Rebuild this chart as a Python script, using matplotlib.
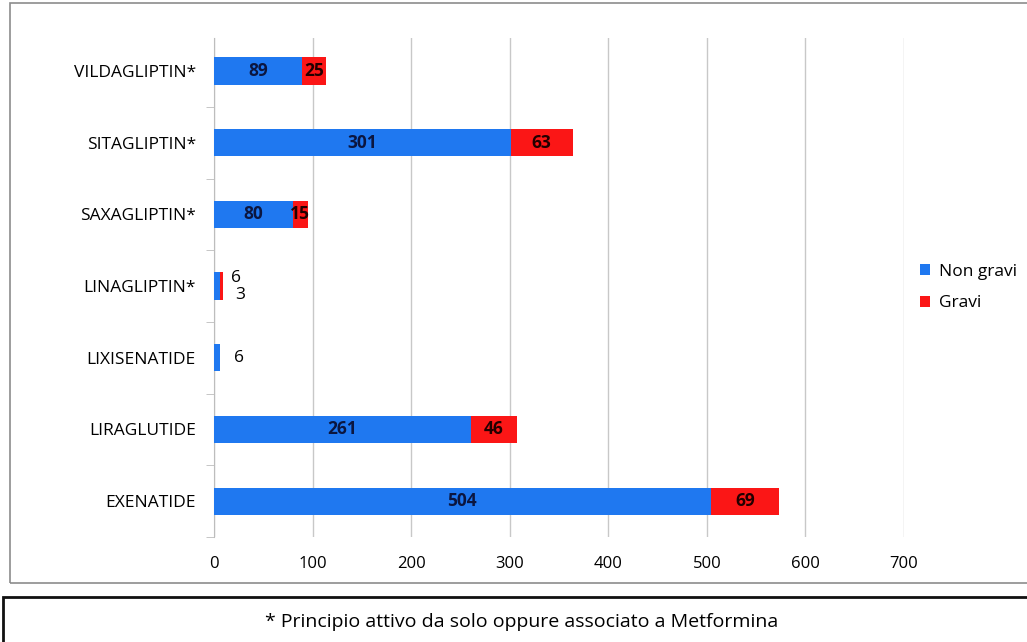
import numpy as np
import matplotlib.pyplot as plt
from matplotlib.patches import Rectangle

farmaci = ['VILDAGLIPTIN*', 'SITAGLIPTIN*', 'SAXAGLIPTIN*', 'LINAGLIPTIN*',
           'LIXISENATIDE', 'LIRAGLUTIDE', 'EXENATIDE']
non_gravi = [89, 301, 80, 6, 6, 261, 504]
gravi = [25, 63, 15, 3, 0, 46, 69]

blu = '#1f78f0'
rosso = '#fb1616'
font = ['Open Sans', 'DejaVu Sans']
plt.rcParams['font.family'] = font

fig = plt.figure(figsize=(10.27, 6.42), dpi=100)

# cornice del grafico e riquadro della nota
fig.patches.append(Rectangle((10 / 1027, 1 - 583 / 642), 1.2, 580 / 642,
                             transform=fig.transFigure, fill=False,
                             edgecolor='#8c8c8c', linewidth=1.2))
fig.patches.append(Rectangle((3 / 1027, -0.05), 1.2, 1 - 597 / 642 + 0.05,
                             transform=fig.transFigure, fill=False,
                             edgecolor='#111111', linewidth=2))
fig.text(0.508, 1 - 622 / 642, '* Principio attivo da solo oppure associato a Metformina',
         ha='center', va='center', fontsize=14)

ax = fig.add_axes([214 / 1027, 1 - 537 / 642, 690 / 1027, 499 / 642])
y = np.arange(len(farmaci))[::-1]
ax.barh(y, non_gravi, height=0.38, color=blu, label='Non gravi', zorder=3)
ax.barh(y, gravi, left=non_gravi, height=0.38, color=rosso, label='Gravi', zorder=3)

for yi, ng, g in zip(y, non_gravi, gravi):
    if ng >= 50:
        ax.text(ng / 2, yi, str(ng), ha='center', va='center', fontsize=12.5,
                fontweight='bold', color='#0b1640', zorder=4)
        if g > 0:
            ax.text(ng + g / 2, yi, str(g), ha='center', va='center', fontsize=12.5,
                    fontweight='bold', color='#220000', zorder=4)
    elif g > 0:
        ax.text(ng + g + 8, yi + 0.11, str(ng), ha='left', va='center', fontsize=12.5, zorder=4)
        ax.text(ng + g + 12, yi - 0.13, str(g), ha='left', va='center', fontsize=12.5, zorder=4)
    else:
        ax.text(ng + 14, yi, str(ng), ha='left', va='center', fontsize=12.5, zorder=4)

ax.set_xlim(0, 700)
ax.set_ylim(-0.49, 6.46)
ax.set_xticks(range(0, 701, 100))
ax.set_yticks(y)
ax.set_yticklabels(farmaci, fontsize=12.5)
ax.set_yticks(np.arange(-0.5, 6.5, 1), minor=True)
ax.tick_params(axis='y', which='major', length=0, pad=13)
ax.tick_params(axis='y', which='minor', length=6, color='#bdbdbd', direction='out')
ax.tick_params(axis='x', length=0, labelsize=12, pad=14)
ax.grid(axis='x', color='#c8c8c8', linewidth=1, zorder=0)
for s in ['top', 'right', 'bottom']:
    ax.spines[s].set_visible(False)
ax.spines['left'].set_color('#bdbdbd')

ax.legend(loc='center left', bbox_to_anchor=(1.0, 0.5), frameon=False, fontsize=12.5,
          handlelength=0.6, handleheight=0.6, handletextpad=0.5, labelspacing=0.9)

fig.savefig('out.png', dpi=100)
